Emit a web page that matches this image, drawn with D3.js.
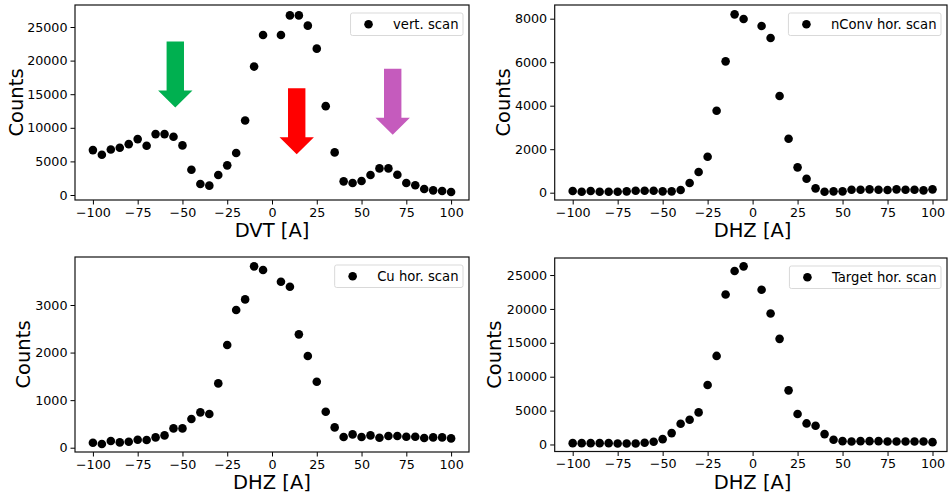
<!DOCTYPE html>
<html>
<head>
<meta charset="utf-8">
<script src="https://cdn.jsdelivr.net/npm/d3@7"></script>
<style>
  html, body { margin: 0; padding: 0; background: #fff; }
  svg { display: block; font-family: "DejaVu Sans", sans-serif; }
</style>
</head>
<body>
<svg id="fig" width="948" height="497"></svg>
<script>
// Scan positions (A) shared by all four scans; the 0 A setting has no reading
const scanPositions = [-100, -95, -90, -85, -80, -75, -70, -65, -60, -55, -50, -45, -40, -35, -30,
  -25, -20, -15, -10, -5, 0, 5, 10, 15, 20, 25, 30, 35, 40, 45, 50, 55, 60, 65, 70, 75, 80, 85, 90, 95, 100];

const vertScan = [6680, 5990, 6780, 7030, 7570, 8320, 7330, 9060, 9060, 8660, 7380, 3760, 1630, 1390, 2970,
  4410, 6240, 11090, 19110, 23810, null, 23810, 26730, 26730, 25200, 21780, 13220, 6340, 2030, 1780, 2080,
  2970, 3960, 3960, 3020, 1780, 1440, 890, 690, 590, 450];

const nConvScan = [77, 46, 77, 46, 46, 46, 61, 92, 92, 92, 61, 61, 123, 444, 950,
  1655, 3770, 6038, 8199, 7985, null, 7663, 7111, 4444, 2483, 1165, 644, 199, 46, 61, 61,
  138, 138, 153, 138, 123, 153, 138, 138, 107, 153];

const cuScan = [105, 77, 140, 112, 126, 168, 161, 217, 259, 406, 406, 603, 743, 708, 1352,
  2158, 2894, 3118, 3812, 3735, null, 3490, 3385, 2383, 1927, 1387, 757, 427, 224, 280, 224,
  259, 210, 245, 245, 231, 231, 203, 217, 217, 196];

const targetScan = [197, 197, 197, 197, 197, 148, 148, 148, 247, 394, 789, 1677, 3057, 3649, 4734,
  8777, 13067, 22140, 25592, 26282, null, 22830, 19330, 15582, 7988, 4487, 3107, 2761, 1529, 690, 493,
  444, 493, 493, 493, 444, 444, 444, 444, 444, 345];

const xTicks = [-100, -75, -50, -25, 0, 25, 50, 75, 100];
const yTicksVert = [0, 5000, 10000, 15000, 20000, 25000];
const yTicksNConv = [0, 2000, 4000, 6000, 8000];
const yTicksCu = [0, 1000, 2000, 3000];
const yTicksTarget = [0, 5000, 10000, 15000, 20000, 25000];

const legendLabels = ["vert. scan", "nConv hor. scan", "Cu hor. scan", "Target hor. scan"];
const xLabels = ["DVT [A]", "DHZ [A]", "DHZ [A]", "DHZ [A]"];

// Peak markers on the vertical scan: position, arrow top and tip (counts)
const arrowX = [-54, 13.8, 67.4];
const arrowTop = [22850, 15900, 18780];
const arrowTip = [13010, 6070, 8950];
const arrowColors = ["#00b050", "#ff0000", "#c55bbd"];

const W = 948, H = 497;
const svg = d3.select("#fig");

const panels = [
  { values: vertScan, yTicks: yTicksVert, yDomain: [-744, 28274], box: [75, 469, 5, 200], ylabX: 23 },
  { values: nConvScan, yTicks: yTicksNConv, yDomain: [-336, 8630], box: [554.7, 950.5, 5, 200], ylabX: 509.5 },
  { values: cuScan, yTicks: yTicksCu, yDomain: [-90, 4009], box: [75, 469, 257, 452], ylabX: 30 },
  { values: targetScan, yTicks: yTicksTarget, yDomain: [-1036, 27515], box: [554.7, 950.5, 258, 451.5], ylabX: 500.5 }
];

const tickFont = 12.7, labelFont = 19.5, legendFont = 13.2;

panels.forEach((p, i) => {
  const [x0, x1, y0, y1] = p.box;
  const x = d3.scaleLinear().domain([-110, 110]).range([x0, x1]);
  const y = d3.scaleLinear().domain(p.yDomain).range([y1, y0]);
  const g = svg.append("g");
  const frameRight = Math.min(x1, W - 1);

  // x axis
  const xAxis = g.append("g")
    .attr("transform", `translate(0,${y1})`)
    .call(d3.axisBottom(x).tickValues(xTicks).tickSize(4.5).tickPadding(3)
      .tickFormat(d => d < 0 ? "\u2212" + Math.abs(d) : String(d)));
  xAxis.select(".domain").remove();
  xAxis.selectAll("line").attr("stroke", "#000").attr("stroke-width", 1);
  xAxis.selectAll("text").attr("font-size", tickFont).attr("fill", "#000")
    .attr("font-family", "DejaVu Sans").attr("dy", "0.72em");

  // y axis
  const yAxis = g.append("g")
    .attr("transform", `translate(${x0},0)`)
    .call(d3.axisLeft(y).tickValues(p.yTicks).tickSize(4.5).tickPadding(3)
      .tickFormat(d => String(d)));
  yAxis.select(".domain").remove();
  yAxis.selectAll("line").attr("stroke", "#000").attr("stroke-width", 1);
  yAxis.selectAll("text").attr("font-size", tickFont).attr("fill", "#000")
    .attr("font-family", "DejaVu Sans");

  // frame
  g.append("rect")
    .attr("x", x0).attr("y", y0)
    .attr("width", frameRight - x0).attr("height", y1 - y0)
    .attr("fill", "none").attr("stroke", "#111").attr("stroke-width", 1.2);

  // axis labels
  g.append("text")
    .attr("x", x(0)).attr("y", y1 + 37)
    .attr("text-anchor", "middle").attr("font-size", labelFont).attr("fill", "#000")
    .text(xLabels[i]);
  g.append("text")
    .attr("transform", `translate(${p.ylabX},${(y0 + y1) / 2}) rotate(-90)`)
    .attr("text-anchor", "middle").attr("font-size", labelFont).attr("fill", "#000")
    .text("Counts");

  // markers
  const pts = scanPositions.map((s, k) => ({ s, v: p.values[k] })).filter(d => d.v !== null);
  g.append("g").selectAll("circle").data(pts).join("circle")
    .attr("cx", d => x(d.s)).attr("cy", d => y(d.v)).attr("r", 4.3).attr("fill", "#000");

  // arrows on the vertical scan
  if (i === 0) {
    const shaftHalf = 8.7, headHalf = 17.2, headLen = 17;
    arrowX.forEach((ax, k) => {
      const cx = x(ax), top = y(arrowTop[k]), tip = y(arrowTip[k]);
      const neck = tip - headLen;
      const path = d3.path();
      path.moveTo(cx - shaftHalf, top);
      path.lineTo(cx + shaftHalf, top);
      path.lineTo(cx + shaftHalf, neck);
      path.lineTo(cx + headHalf, neck);
      path.lineTo(cx, tip);
      path.lineTo(cx - headHalf, neck);
      path.lineTo(cx - shaftHalf, neck);
      path.closePath();
      g.append("path").attr("d", path.toString()).attr("fill", arrowColors[k]);
    });
  }

  // legend
  const lg = g.append("g");
  const txt = lg.append("text").attr("font-size", legendFont).attr("fill", "#000")
    .text(legendLabels[i]);
  const tw = txt.node().getComputedTextLength();
  const boxRight = frameRight - 6;
  const boxTop = y0 + 8;
  const boxH = 22.5;
  const boxW = tw + 24.5 + 18 + 4.5;
  const boxLeft = boxRight - boxW;
  lg.insert("rect", "text")
    .attr("x", boxLeft).attr("y", boxTop).attr("width", boxW).attr("height", boxH)
    .attr("rx", 2).attr("fill", "#fff").attr("fill-opacity", 0.8)
    .attr("stroke", "#d9d9d9").attr("stroke-width", 1);
  lg.append("circle").attr("cx", boxLeft + 18).attr("cy", boxTop + boxH / 2).attr("r", 4.3).attr("fill", "#000");
  txt.attr("x", boxLeft + 18 + 24.5).attr("y", boxTop + boxH / 2 + legendFont * 0.36);
});
</script>
</body>
</html>
